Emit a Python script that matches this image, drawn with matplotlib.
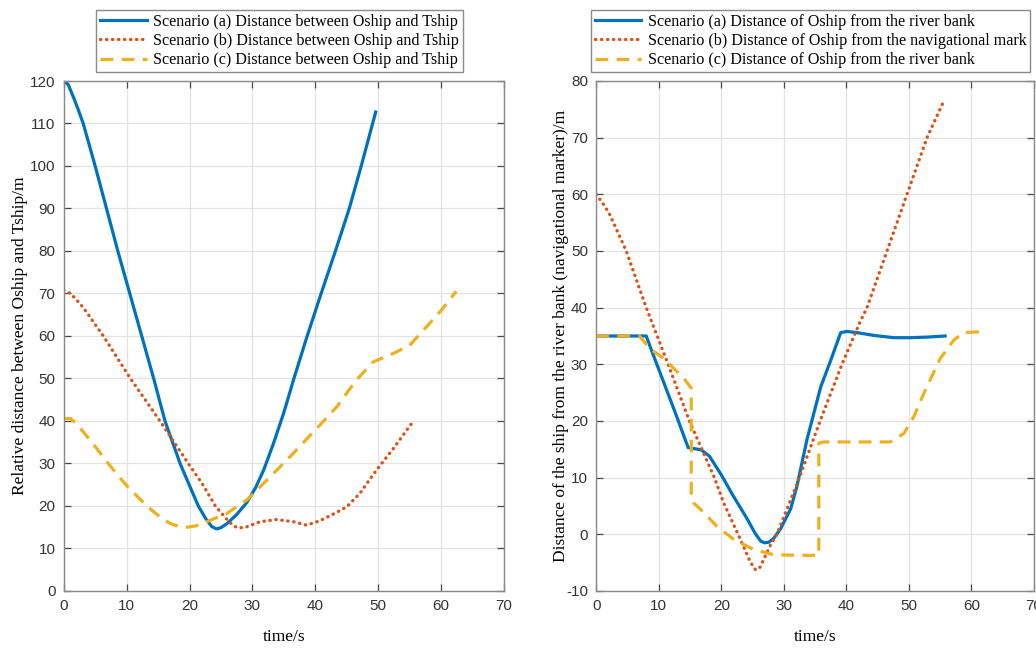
import matplotlib
matplotlib.use("Agg")
import matplotlib.pyplot as plt

plt.rcParams["axes.unicode_minus"] = False

# ---------------- data ----------------
# Left panel: relative distance between Oship and Tship
left_a_t = [0, 0.7, 1.6, 2.3, 3.1, 5.0, 6.8, 8.6, 10.5, 12.4, 14.3, 16.1, 17.3, 18.5, 20.0, 21.4, 22.5, 23.5, 24.3, 25.0, 26.0, 27.5, 29.1, 30.5, 31.8, 33.3, 35.0, 36.6, 38.6, 40.7, 43.2, 45.4, 47.3, 49.6]
left_a_d = [120, 119.2, 116, 113.3, 110, 100, 90, 80, 70, 60, 50, 40, 35, 30, 24.8, 20, 17.2, 15.2, 14.6, 14.9, 15.9, 18.0, 20.8, 24.3, 28.5, 34.5, 42.0, 50.0, 59.5, 69.0, 80, 90, 100, 112.7]

left_b_t = [0, 1.06, 2.0, 3.2, 6.3, 10.6, 15.3, 19.8, 22.0, 24.1, 25.9, 27.0, 27.8, 29.1, 31.2, 33.8, 36.5, 38.6, 40.7, 43.0, 45.0, 47.1, 49.7, 52.4, 55.3]
left_b_d = [70.8, 70.0, 68.6, 66.5, 60.0, 50.0, 40.0, 30.0, 25.3, 20.0, 16.9, 15.3, 14.8, 15.1, 16.3, 16.8, 16.3, 15.5, 16.5, 18.2, 19.8, 23.0, 28.4, 33.5, 39.4]

left_c_t = [0, 0.5, 1.06, 1.85, 3.2, 5.0, 7.4, 10.0, 13.2, 15.0, 16.9, 18.3, 19.5, 21.0, 22.7, 25.9, 29.1, 32.8, 36.5, 40.2, 43.4, 46.5, 49.2, 52.4, 55.0, 57.7, 60.0, 62.4]
left_c_d = [40.4, 40.6, 40.6, 39.6, 37.3, 34.0, 29.4, 24.8, 20.0, 17.8, 15.9, 15.2, 15.0, 15.3, 16.3, 18.2, 21.4, 26.8, 32.4, 38.2, 43.3, 49.6, 53.9, 55.9, 57.8, 62.2, 66.0, 70.5]

# Right panel: distance of the ship from the river bank (navigational marker)
right_a_t = [0, 4.0, 8.0, 8.8, 10.8, 12.8, 14.7, 16.8, 18.1, 20.0, 21.9, 24.1, 25.4, 26.3, 26.9, 27.6, 28.4, 29.5, 31.1, 32.1, 33.7, 35.9, 37.5, 39.1, 40.1, 41.7, 44.4, 47.6, 50.2, 52.9, 55.8]
right_a_d = [35.0, 35.0, 35.0, 32.6, 26.8, 21.0, 15.3, 14.9, 13.8, 10.5, 6.8, 2.8, 0.2, -1.2, -1.5, -1.4, -0.7, 1.0, 4.5, 8.5, 16.7, 26.0, 30.7, 35.6, 35.8, 35.6, 35.1, 34.7, 34.7, 34.8, 35.0]

right_b_t = [0, 1.07, 2.1, 4.8, 8.0, 11.5, 14.9, 18.9, 20.4, 23.1, 24.6, 25.5, 26.2, 26.8, 28.0, 28.9, 32.5, 35.8, 39.3, 42.2, 43.3, 46.5, 49.7, 52.9, 55.6]
right_b_d = [60.0, 58.4, 56.6, 50.0, 40.0, 30.0, 20.0, 10.0, 5.5, -1.0, -4.8, -6.3, -5.8, -4.4, -1.6, 0.0, 10.0, 20.0, 30.0, 37.5, 40.0, 50.0, 60.0, 70.0, 76.5]

right_c_t = [0, 6.9, 7.5, 8.8, 10.7, 12.3, 14.1, 15.2, 15.2, 15.6, 16.7, 19.3, 22.0, 25.2, 28.4, 32.1, 35.6, 35.6, 36.4, 41.7, 47.0, 49.2, 50.8, 52.4, 55.0, 57.2, 58.8, 62.2]
right_c_d = [35.0, 35.0, 34.2, 32.6, 31.1, 29.4, 27.4, 25.8, 6.5, 5.5, 4.4, 1.4, -0.9, -2.7, -3.6, -3.7, -3.7, 16.1, 16.3, 16.3, 16.3, 17.8, 20.8, 24.9, 31.0, 34.3, 35.6, 35.8]

left_labels = ["Scenario (a) Distance between Oship and Tship",
               "Scenario (b) Distance between Oship and Tship",
               "Scenario (c) Distance between Oship and Tship"]
right_labels = ["Scenario (a) Distance of Oship from the river bank",
                "Scenario (b) Distance of Oship from the navigational mark",
                "Scenario (c) Distance of Oship from the river bank"]

x_ticks = [0, 10, 20, 30, 40, 50, 60, 70]
left_yticks = [0, 10, 20, 30, 40, 50, 60, 70, 80, 90, 100, 110, 120]
right_yticks = [-10, 0, 10, 20, 30, 40, 50, 60, 70, 80]

# ---------------- style ----------------
C_A = "#0072BD"
C_B = "#D95319"
C_C = "#EDB120"
SERIF = "Liberation Serif"
SANS = "Liberation Sans"
DOT = (0, (0.1, 1.7))
DASH = (0, (4.0, 2.6))

fig = plt.figure(figsize=(10.36, 6.48), dpi=100)
ax1 = fig.add_axes([0.0615, 0.0880, 0.4250, 0.7870])
ax2 = fig.add_axes([0.5755, 0.0880, 0.4225, 0.7870])


def style_axes(ax, yticks, ylim, ylabel, ylabelpad):
    ax.set_xlim(0, 70)
    ax.set_ylim(*ylim)
    ax.set_xticks(x_ticks)
    ax.set_yticks(yticks)
    ax.grid(True, color="#E3E3E3", linewidth=0.9)
    ax.set_axisbelow(True)
    for s in ax.spines.values():
        s.set_color("#8A8A8A")
        s.set_linewidth(1.0)
    ax.tick_params(direction="in", top=True, right=True, length=5, width=0.9,
                   color="#4A4A4A", labelcolor="#333333", labelsize=11, pad=6)
    for lab in ax.get_xticklabels() + ax.get_yticklabels():
        lab.set_fontfamily(SANS)
    ax.set_xlabel("time/s", fontfamily=SERIF, fontsize=12.5, labelpad=11)
    ax.set_ylabel(ylabel, fontfamily=SERIF, fontsize=12.5, labelpad=ylabelpad)


def draw(ax, ta, da, tb, db, tc, dc, labels):
    ax.plot(ta, da, color=C_A, lw=2.3, label=labels[0], solid_joinstyle="round")
    ax.plot(tb, db, color=C_B, lw=2.4, linestyle=DOT, dash_capstyle="round", label=labels[1])
    ax.plot(tc, dc, color=C_C, lw=2.3, linestyle=DASH, dash_capstyle="butt", label=labels[2])


draw(ax1, left_a_t, left_a_d, left_b_t, left_b_d, left_c_t, left_c_d, left_labels)
style_axes(ax1, left_yticks, (0, 120), "Relative distance between Oship and Tship/m", 1)

draw(ax2, right_a_t, right_a_d, right_b_t, right_b_d, right_c_t, right_c_d, right_labels)
style_axes(ax2, right_yticks, (-10, 80), "Distance of the ship from the river bank (navigational marker)/m", -2)

for ax in (ax1, ax2):
    leg = ax.legend(loc="lower center", bbox_to_anchor=(0.49, 1.018),
                    prop={"family": SERIF, "size": 11.6},
                    frameon=True, fancybox=False, framealpha=1,
                    edgecolor="#8A8A8A", borderpad=0.22, labelspacing=0.2,
                    handlelength=2.9, handletextpad=0.4, borderaxespad=0)
    leg.get_frame().set_linewidth(1.0)

fig.savefig("out.png", dpi=100)
